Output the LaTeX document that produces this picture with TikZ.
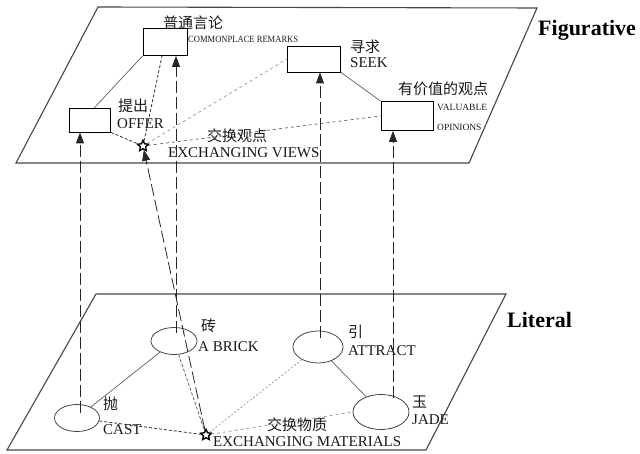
\documentclass[tikz,border=0pt]{standalone}
\usepackage{fontspec}
\setmainfont{Liberation Serif}
\newfontfamily\cjk{Noto Sans CJK SC}
\usetikzlibrary{shapes.geometric,arrows.meta}
\definecolor{planegray}{RGB}{70, 70, 70}
\definecolor{linkgray}{RGB}{95, 95, 95}
\definecolor{lightgray}{RGB}{150, 150, 150}
\definecolor{textblack}{RGB}{25, 25, 25}

\begin{document}
\begin{tikzpicture}[
        x=1pt, y=-1pt,
        plane/.style={draw=planegray, line width=1.1pt},
        idea/.style={rectangle, draw=black, line width=0.8pt, minimum width=44pt, minimum height=27pt, inner sep=0pt},
        thing/.style={ellipse, draw=planegray, line width=0.8pt, minimum width=46pt, minimum height=27pt, inner sep=0pt},
        hub/.style={star, star points=5, star point ratio=2.1, draw=black, line width=1.2pt, fill=white, minimum size=11pt, inner sep=0pt},
        en/.style={anchor=west, inner sep=0pt, text=textblack, font=\fontsize{15}{16}\selectfont},
        small/.style={anchor=west, inner sep=0pt, text=textblack, font=\fontsize{9.5}{10}\selectfont},
        zh/.style={anchor=west, inner sep=0pt, text=textblack, font=\cjk\fontsize{15}{16}\selectfont},
        level/.style={anchor=west, inner sep=0pt, font=\bfseries\fontsize{22}{24}\selectfont},
        link/.style={draw=linkgray, line width=0.7pt},
        tie/.style={draw=black!80, line width=0.8pt, dash pattern=on 3pt off 2pt},
        faint/.style={draw=lightgray, line width=0.7pt, dash pattern=on 3pt off 3pt},
        lift/.style={-{Triangle[length=11pt, width=8pt]}, draw=black!85, line width=0.8pt, dash pattern=on 12pt off 4pt}
    ]
    \useasboundingbox (0,0) rectangle (640,454);

    % Planes
    \draw[plane] (98,7) -- (537,8) -- (469,163) -- (16,163) -- cycle;
    \draw[plane] (96,294) -- (506,294) -- (426,450) -- (7,450) -- cycle;
    \node[level] (figurative) at (538,30) {Figurative};
    \node[level] (literal) at (507,320) {Literal};

    % Figurative concepts
    \node[idea] (remarks) at (165,42) {};
    \node[idea, minimum width=41pt, minimum height=24pt] (offer) at (90,120) {};
    \node[idea, minimum width=53pt, minimum height=26pt] (seek) at (314,59) {};
    \node[idea, minimum width=52pt, minimum height=29pt] (valuable) at (407,116) {};
    \node[hub] (viewstar) at (143,146) {};

    \node[zh] (remarkszh) at (163,23) {普通言论};
    \node[small, xscale=0.9] (remarksen) at (188,39) {COMMONPLACE REMARKS};
    \node[zh] (offerzh) at (118,106) {提出};
    \node[en] (offeren) at (117,124) {OFFER};
    \node[zh] (seekzh) at (350,47) {寻求};
    \node[en] (seeken) at (350,63) {SEEK};
    \node[zh] (valuablezh) at (398,89) {有价值的观点};
    \node[small] (valuableen) at (437,107) {VALUABLE};
    \node[small] (opinionsen) at (437,127) {OPINIONS};
    \node[zh] (viewszh) at (207,136) {交换观点};
    \node[en] (viewsen) at (168,153) {EXCHANGING VIEWS};

    % Literal objects
    \node[thing] (brick) at (174,341) {};
    \node[thing, minimum width=45pt] (cast) at (77,418) {};
    \node[thing, minimum width=50pt, minimum height=32pt] (attract) at (318,347) {};
    \node[thing, minimum width=56pt, minimum height=35pt] (jade) at (381,412) {};
    \node[hub] (matstar) at (206,435) {};

    \node[zh] (brickzh) at (201,326) {砖};
    \node[en] (bricken) at (198,347) {A BRICK};
    \node[zh] (castzh) at (103,404) {抛};
    \node[en] (casten) at (103,430) {CAST};
    \node[zh] (attractzh) at (348,332) {引};
    \node[en] (attracten) at (348,351) {ATTRACT};
    \node[zh] (jadezh) at (412,402) {玉};
    \node[en] (jadeen) at (412,420) {JADE};
    \node[zh] (matzh) at (267,425) {交换物质};
    \node[en] (maten) at (213,442) {EXCHANGING MATERIALS};

    % Links inside each plane
    \draw[link] (offer.70) -- (remarks.south west);
    \draw[link] (seek.south east) -- (valuable.north west);
    \draw[tie] (offer.south east) -- (viewstar);
    \draw[tie] (viewstar) -- (remarks);
    \draw[faint] (viewstar) -- (seek.west);
    \draw[faint, draw=linkgray] (viewstar) -- (valuable.west);

    \draw[link] (cast) -- (brick);
    \draw[link] (attract) -- (jade);
    \draw[tie] (cast) -- (matstar);
    \draw[tie, draw=linkgray] (brick) -- (matstar);
    \draw[faint, dash pattern=on 2pt off 2pt] (matstar) -- (attract);
    \draw[faint] (matstar) -- (jade.west);

    % Mappings from literal to figurative
    \coordinate (castup) at (80,413);
    \coordinate (brickup) at (176,333);
    \coordinate (attractup) at (320,338);
    \coordinate (jadeup) at (393,398);
    \draw[lift] (castup) -- (castup |- offer.south);
    \draw[lift] (brickup) -- (brickup |- remarks.south);
    \draw[lift] (attractup) -- (attractup |- seek.south);
    \draw[lift] (jadeup) -- (jadeup |- valuable.south);
    \draw[lift] (matstar) -- (viewstar);
    \node[hub] at (viewstar) {};
    \node[hub] at (matstar) {};

\end{tikzpicture}
\end{document}
